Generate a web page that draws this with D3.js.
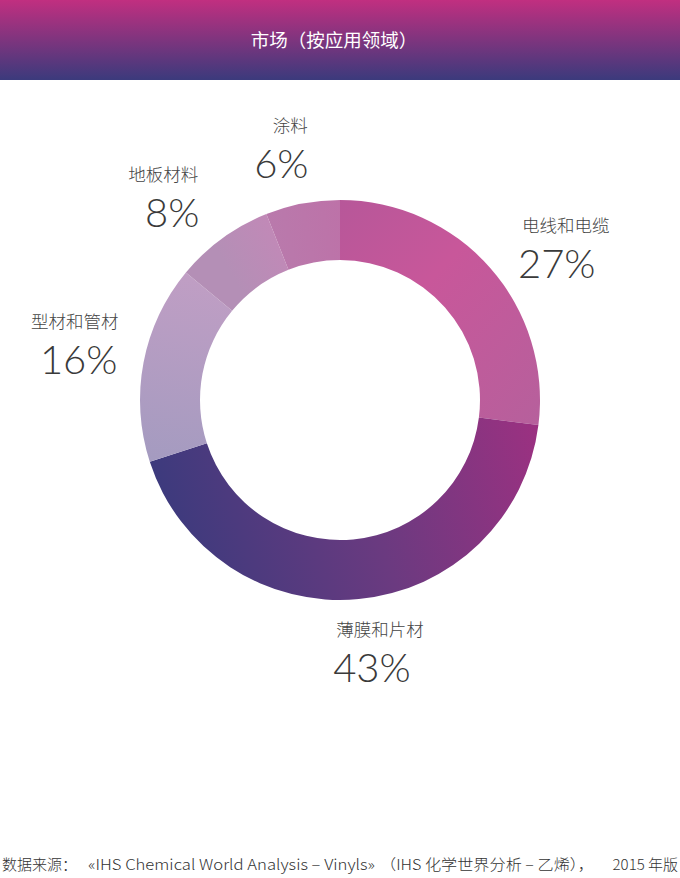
<!DOCTYPE html>
<html><head><meta charset="utf-8">
<script src="https://cdn.jsdelivr.net/npm/d3@7"></script>
<style>
html,body{margin:0;padding:0;background:#fff;}
svg{display:block;}
</style></head>
<body>
<svg id="c" width="680" height="878"></svg>
<script>
// ---- data ----
const title = "市场（按应用领域）";
const categories = ["电线和电缆", "薄膜和片材", "型材和管材", "地板材料", "涂料"];
const values = [27, 43, 16, 8, 6];
const sourceParts = ["数据来源：", "«IHS Chemical World Analysis – Vinyls»", "（IHS 化学世界分析 – 乙烯），", "2015 年版"];

// ---- styles / layout ----
const W = 680, H = 878;
const cx = 340, cy = 400, R = 200, r = 140;
const gradStops = [
  [["0", "#b35799"], ["0.45", "#c8579a"], ["1", "#b6609c"]],
  [["0", "#a03081"], ["0.5", "#6b3a80"], ["1", "#3d3a7d"]],
  [["0", "#c09ec4"], ["1", "#a49bc0"]],
  [["0", "#b48fb6"], ["1", "#c189b7"]],
  [["0", "#b97aac"], ["1", "#bd72a8"]]
];
const gradDir = [[-0.2, 1.7], [1.4, 4.3], [5.4, 4.4], [5.6, 5.9], [5.9, 6.28]];
// [category dx, percent dx, dy] relative to label-arc centroid
const labelNudge = [[27, 18, 25], [15, 7, -10], [-5, -1, -4], [-21, -12, 13], [0, -9, 10]];
const labelR = 265;
// footer segment anchors
const sourceX = [2, 88, 380, 678];
const sourceAnchor = ["start", "start", "start", "end"];
const sourceLen = [null, 287, 214, null];

const svg = d3.select("#c");
const defs = svg.append("defs");

// header
const hg = defs.append("linearGradient").attr("id", "hdr").attr("x1", 0).attr("y1", 0).attr("x2", 0).attr("y2", 1);
hg.append("stop").attr("offset", "0").attr("stop-color", "#c12f80");
hg.append("stop").attr("offset", "1").attr("stop-color", "#3b3a7c");
svg.append("rect").attr("x", 0).attr("y", 0).attr("width", W).attr("height", 80).attr("fill", "url(#hdr)");
svg.append("text").attr("x", W / 2 - 6).attr("y", 47).attr("text-anchor", "middle")
  .attr("fill", "#fff").attr("font-family", "'Noto Sans CJK SC', sans-serif")
  .attr("font-size", 18.5).attr("font-weight", 400).text(title);

// donut
const pie = d3.pie().sort(null).value(d => d);
const arcs = pie(values);
const arc = d3.arc().innerRadius(r).outerRadius(R);

arcs.forEach((a, i) => {
  const [t0, t1] = gradDir[i];
  const g = defs.append("linearGradient").attr("id", "g" + i).attr("gradientUnits", "userSpaceOnUse")
    .attr("x1", R * Math.sin(t0)).attr("y1", -R * Math.cos(t0))
    .attr("x2", R * Math.sin(t1)).attr("y2", -R * Math.cos(t1));
  gradStops[i].forEach(s => g.append("stop").attr("offset", s[0]).attr("stop-color", s[1]));
});

const gChart = svg.append("g").attr("transform", `translate(${cx},${cy})`);
gChart.selectAll("path").data(arcs).join("path")
  .attr("d", arc)
  .attr("fill", (d, i) => `url(#g${i})`);

// labels
const labelArc = d3.arc().innerRadius(labelR).outerRadius(labelR);
const lg = svg.append("g").attr("transform", `translate(${cx},${cy})`);
arcs.forEach((a, i) => {
  const [x, y] = labelArc.centroid(a);
  const ly = y + labelNudge[i][2];
  lg.append("text").attr("x", x + labelNudge[i][0]).attr("y", ly - 18).attr("text-anchor", "middle")
    .attr("font-family", "'Noto Sans CJK SC', sans-serif").attr("font-size", 17.5)
    .attr("font-weight", 300).attr("fill", "#444").text(categories[i]);
  lg.append("text").attr("x", x + labelNudge[i][1]).attr("y", ly + 28).attr("text-anchor", "middle")
    .attr("font-family", "Lato, sans-serif").attr("font-size", 40)
    .attr("font-weight", 300).attr("fill", "#3a3a3a").text(values[i] + "%");
});

// footer
const ft = svg.append("g");
sourceParts.forEach((s, i) => {
  const t = ft.append("text").attr("x", sourceX[i]).attr("y", 870).attr("text-anchor", sourceAnchor[i])
    .attr("font-family", "'Noto Sans CJK SC', sans-serif").attr("font-size", 15)
    .attr("font-weight", 300).attr("fill", "#333")
    .text(s);
  if (sourceLen[i]) t.attr("textLength", sourceLen[i]).attr("lengthAdjust", "spacingAndGlyphs");
});
</script>
</body></html>
